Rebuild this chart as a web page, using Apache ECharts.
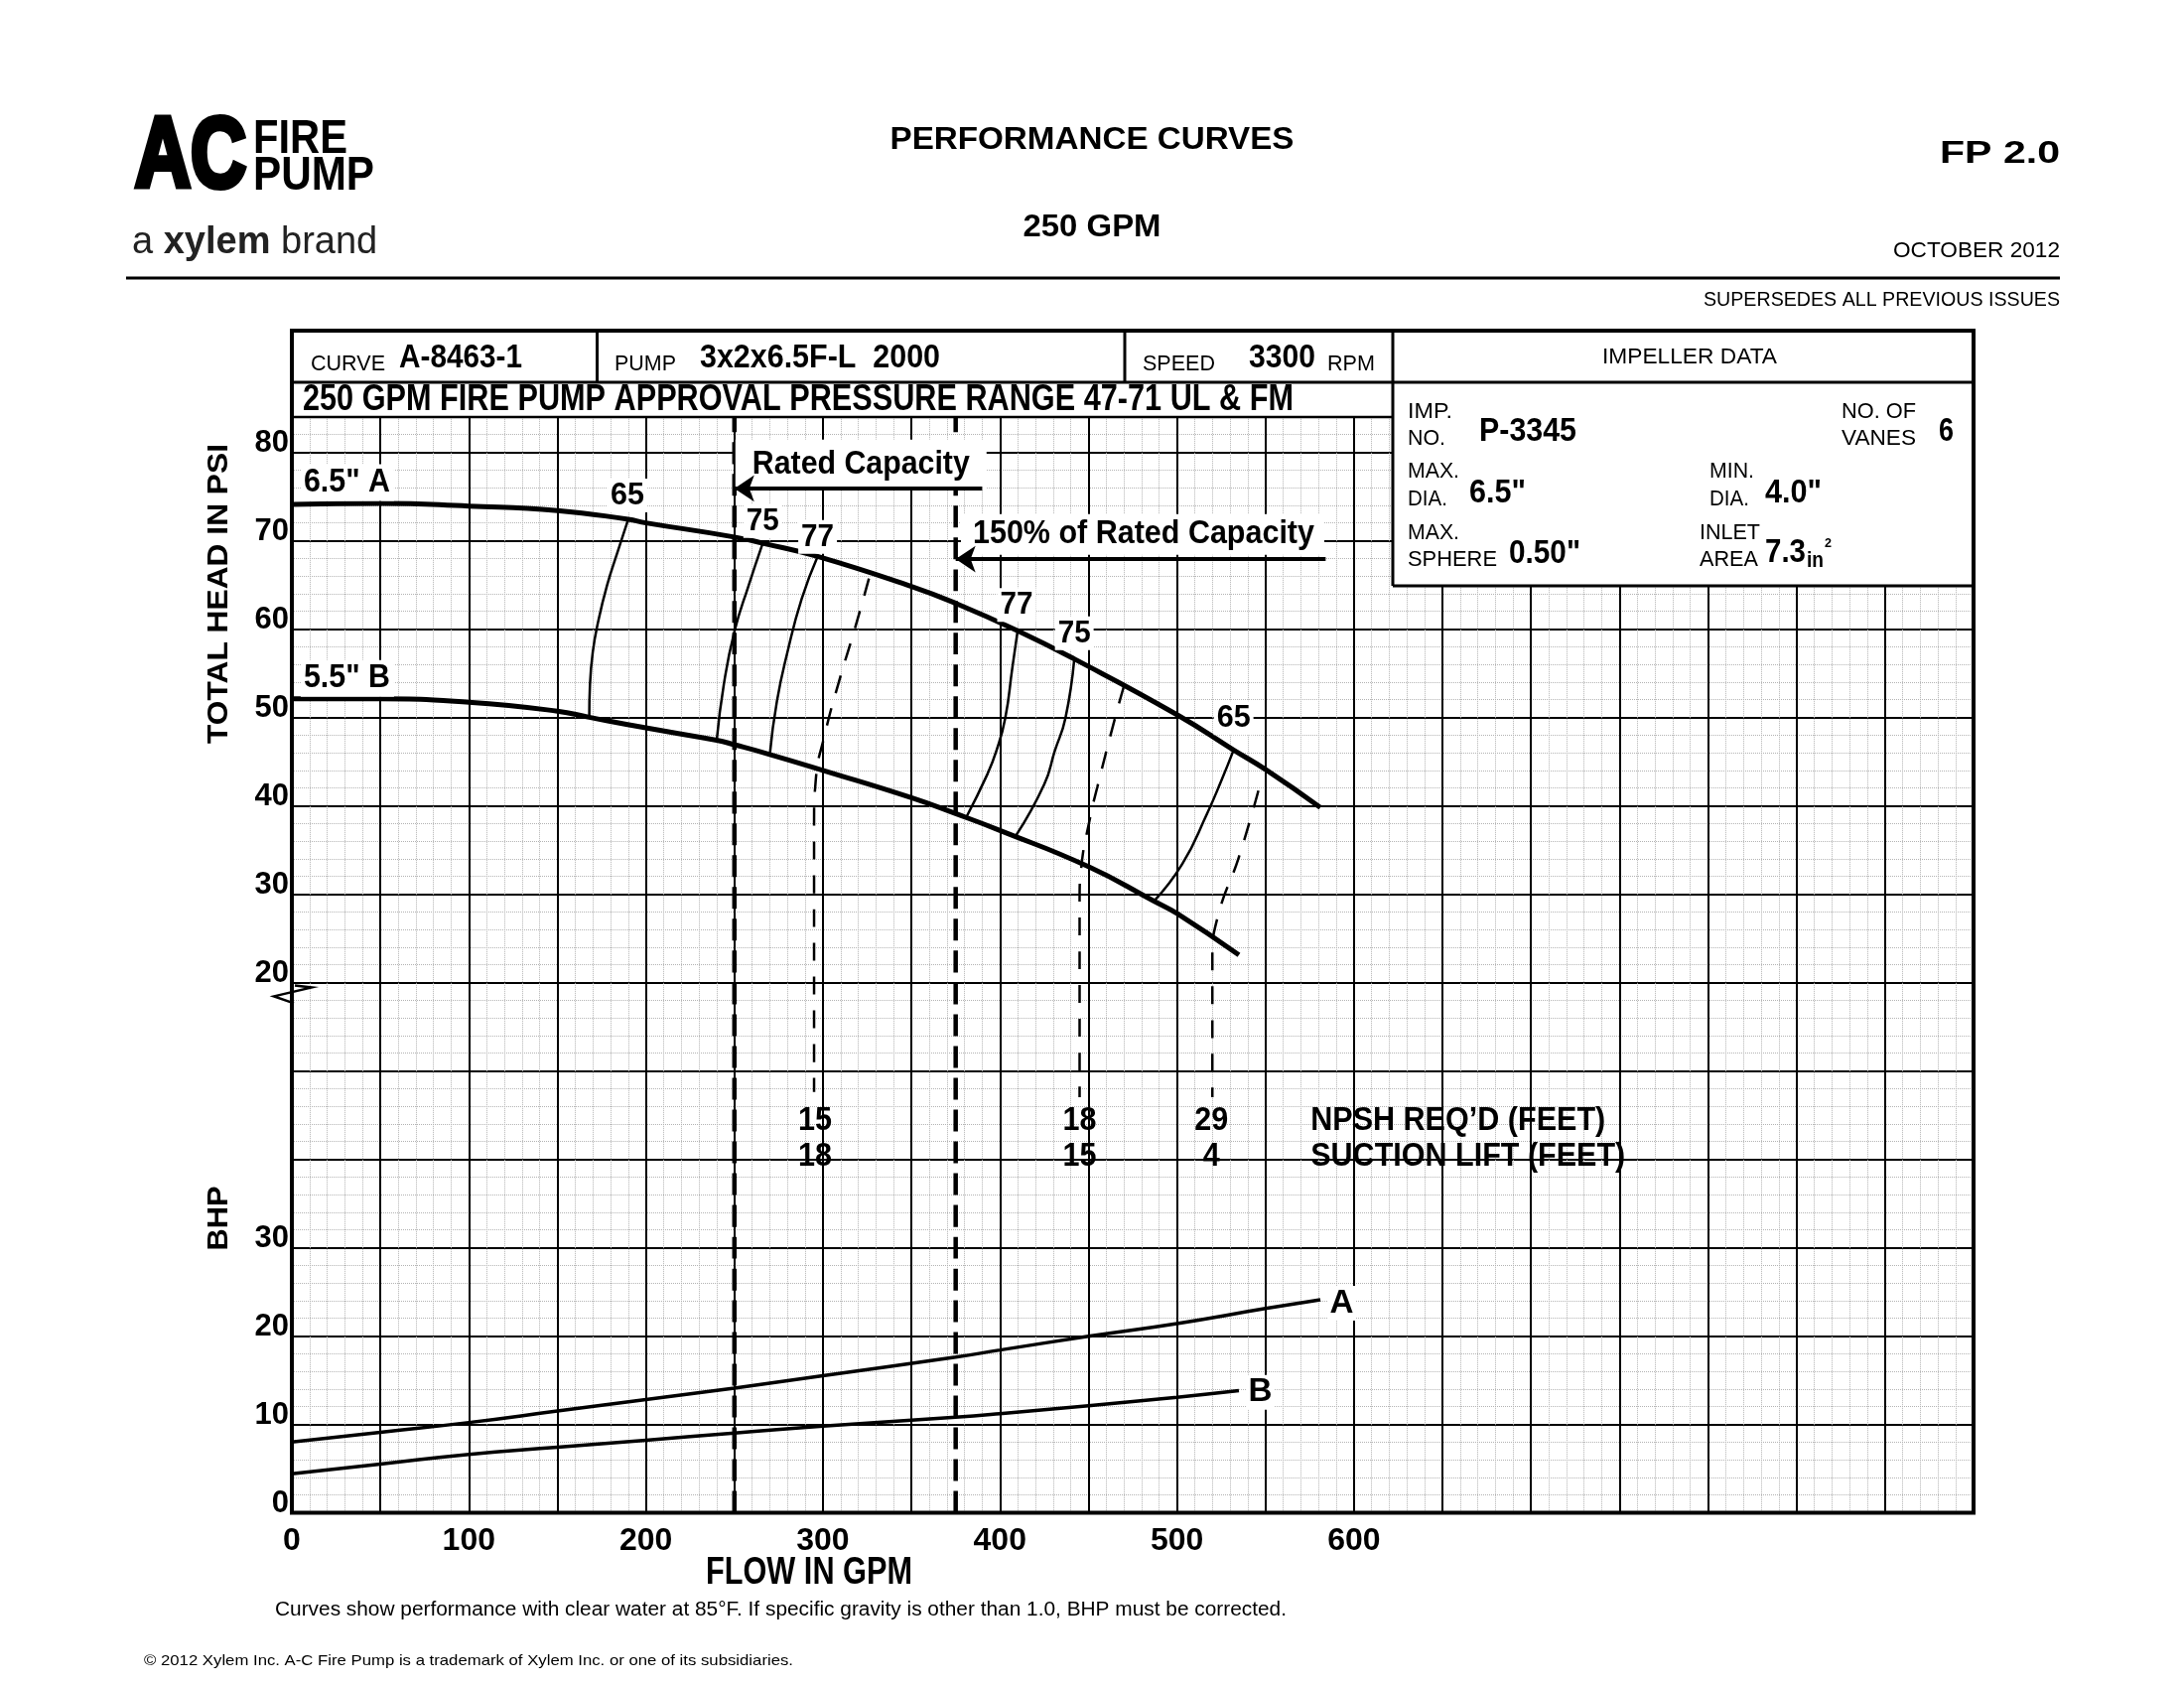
<!DOCTYPE html>
<html>
<head>
<meta charset="utf-8">
<script src="https://cdn.jsdelivr.net/npm/echarts@6/dist/echarts.min.js"></script>
<style>
  html, body { margin: 0; padding: 0; background: #fff; }
  #canvas { width: 2200px; height: 1700px; }
</style>
</head>
<body>
<div id="canvas"></div>
<script>
// ---- data (flow in GPM, head in PSI, power in BHP) ----
var FLOW_MAX = 950, Y_TOP = 124, PSI_OFFSET = 40;   // psi 20 sits on grid row 60
var flowTicks = [0, 100, 200, 300, 400, 500, 600];
var psiTicks = [20, 30, 40, 50, 60, 70, 80];
var bhpTicks = [0, 10, 20, 30];

var headA = [[0,74.1],[50,74.2],[100,73.9],[150,73.4],[190,72.4],[200,72.0],[250,70.4],[266,69.7],
             [297,68.2],[350,64.8],[375,62.9],[410,59.8],[442,56.6],[500,50.3],[532,46.3],[550,44.1],[581,39.8]];
var headB = [[0,52.1],[50,52.1],[100,51.7],[150,50.7],[168,50.0],[200,48.8],[240,47.4],[250,46.9],[270,45.8],
             [300,44.0],[350,40.9],[375,39.1],[400,37.2],[450,33.1],[487,29.2],[500,27.8],[535,23.1]];

// iso-efficiency lines (%), each from the A curve down to the B curve
var eff65L = [[190,72.4],[184,68.7],[178,64.9],[173,60.8],[170,57.4],[168.4,53.7],[168,50.0]];
var eff75L = [[266,69.7],[258,64.9],[250,59.7],[244,53.7],[240,47.4]];
var eff77L = [[297,68.2],[288,63.4],[280,57.4],[274,51.8],[270,45.8]];
var eff77R = [[410,59.8],[407,55.6],[403,49.9],[398,46.2],[393,43.6],[381,38.7]];
var eff75R = [[442,56.6],[437,49.9],[431,46.2],[425,42.4],[409,36.6]];
var eff65R = [[532,46.3],[525,42.8],[517,39.1],[503,33.4],[487,29.2]];

// NPSH dashed lines
var npsh1 = [[326,65.7],[318,60],[309,54],[301,48],[296,43],[295,38],[295,7.6]];
var npsh2 = [[470,53.5],[465,49.9],[455,42.1],[451,38.7],[446,33.1],[445,29.3],[445,7.0]];
var npsh3 = [[546,41.7],[535,34.2],[523,27.4],[520,22.6],[520,7.0]];

var npshFlows = [295.5, 445, 519.5];
var npshReq = ['15', '18', '29'];
var suctionLift = ['18', '15', '4'];

// brake horsepower
var bhpA = [[0,8.0],[50,9.1],[100,10.2],[150,11.5],[200,12.8],[250,14.1],[300,15.5],[375,17.6],
            [400,18.4],[450,19.95],[500,21.4],[550,23.1],[581,24.1]];
var bhpB = [[0,4.4],[50,5.5],[100,6.6],[150,7.4],[200,8.2],[250,9.0],[300,9.8],[375,10.8],
            [400,11.2],[450,12.1],[500,13.05],[535,13.8]];

var ratedFlow = 250, overloadFlow = 375;

var SANS = "'Liberation Sans',Arial,sans-serif";

// squeeze Liberation Sans to the condensed look of the sheet
var mctx = document.createElement('canvas').getContext('2d');
function fit(text, font, w) {
  mctx.font = font;
  return w / mctx.measureText(text).width;
}

function psi(pts) { return pts.map(function (p) { return [p[0], p[1] + PSI_OFFSET]; }); }

function curve(pts, width, dash, z) {
  return {
    type: 'line', data: pts, showSymbol: false, smooth: true, silent: true, z: z || 3,
    lineStyle: { color: '#000', width: width, type: dash || 'solid' }
  };
}

// text notes placed in data space: [text, flow, y(grid units), size, align, width, white box padding]
var notes = [
  ['6.5" A', 5, 76.55 + PSI_OFFSET, 33, 'left', 87, [2, 4, 2, 3]],
  ['5.5" B', 5, 54.4 + PSI_OFFSET, 33, 'left', 87, [2, 4, 2, 3]],
  ['65', 189.6, 75.1 + PSI_OFFSET, 32, 'center', 34, [1, 3, 1, 3]],
  ['75', 266, 72.2 + PSI_OFFSET, 32, 'center', 33, [1, 3, 1, 3]],
  ['77', 297, 70.4 + PSI_OFFSET, 32, 'center', 33, [1, 3, 1, 3]],
  ['77', 409.4, 62.7 + PSI_OFFSET, 32, 'center', 33, [1, 3, 1, 3]],
  ['75', 442, 59.5 + PSI_OFFSET, 32, 'center', 33, [1, 3, 1, 3]],
  ['65', 532, 49.9 + PSI_OFFSET, 32, 'center', 34, [1, 3, 1, 3]],
  ['Rated Capacity', 321.5, 78.55 + PSI_OFFSET, 33, 'center', 219, [1, 17, 17, 17]],
  ['150% of Rated Capacity', 480.6, 70.7 + PSI_OFFSET, 33, 'center', 344, [5, 10, 3, 12]],
  ['NPSH REQ\u2019D (FEET)', 575.5, 44.3, 33, 'left', 297, null],
  ['SUCTION LIFT (FEET)', 575.5, 40.3, 33, 'left', 317, null],
  ['A', 593, 23.7, 33, 'center', 24, [1, 2, 1, 2]],
  ['B', 547, 13.6, 33, 'center', 24, [1, 2, 1, 2]]
];
npshFlows.forEach(function (f, i) {
  notes.push([npshReq[i], f, 44.3, 33, 'center', npshReq[i].length * 17, null]);
  notes.push([suctionLift[i], f, 40.3, 33, 'center', suctionLift[i].length * 17, null]);
});

var dom = document.getElementById('canvas');
var myChart = echarts.init(dom);

// page furniture: header, table, footer
function txt(x, y, s, font, align, w, extra) {
  var o = { type: 'text', x: x, y: y, z: 120, silent: true,
    style: { text: s, font: font, fill: '#000', align: align || 'left', verticalAlign: 'middle' } };
  if (w) o.scaleX = fit(s, font, w);
  if (extra) { for (var k in extra) o[k] = extra[k]; }
  return o;
}
function ln(x1, y1, x2, y2, w) {
  return { type: 'line', z: 121, silent: true, shape: { x1: x1, y1: y1, x2: x2, y2: y2 },
    style: { stroke: '#000', lineWidth: w } };
}

var B34 = "bold 34px " + SANS, R22 = "22px " + SANS;

var graphics = [
  // logo
  txt(136, 160, 'AC', "bold 100px " + SANS, 'left', 112, { style: { text: 'AC', font: "bold 100px " + SANS, fill: '#000',
      stroke: '#000', lineWidth: 6, align: 'left', verticalAlign: 'middle' } }),
  txt(255, 141, 'FIRE', "bold 48px " + SANS, 'left', 95),
  txt(255, 178, 'PUMP', "bold 48px " + SANS, 'left', 122),
  { type: 'text', x: 133, y: 245, z: 120, silent: true,
    style: { text: '{r|a }{b|xylem}{r| brand}', verticalAlign: 'middle',
      rich: { r: { font: "38px " + SANS, fill: '#222' }, b: { font: "bold 38px " + SANS, fill: '#222' } } } },
  txt(1100, 141, 'PERFORMANCE CURVES', "bold 31px " + SANS, 'center', 407),
  txt(1100, 229, '250 GPM', "bold 31px " + SANS, 'center', 139),
  txt(2075, 155, 'FP 2.0', "bold 32px " + SANS, 'right', 121),
  txt(2075, 253, 'OCTOBER 2012', "22px " + SANS, 'right', 168),
  ln(127, 280, 2075, 280, 3),
  txt(2075, 302, 'SUPERSEDES ALL PREVIOUS ISSUES', "20px " + SANS, 'right', 359),
  // table
  { type: 'rect', z: 110, silent: true, shape: { x: 294, y: 333, width: 1694, height: 87 }, style: { fill: '#fff' } },
  { type: 'rect', z: 110, silent: true, shape: { x: 1403, y: 333, width: 585, height: 257 }, style: { fill: '#fff' } },
  ln(294, 385, 1988, 385, 3),
  ln(294, 420, 1403, 420, 2.5),
  ln(1403, 590, 1988, 590, 3),
  ln(601.5, 333, 601.5, 385, 3),
  ln(1133, 333, 1133, 385, 3),
  ln(1403, 333, 1403, 590, 3),
  { type: 'rect', z: 122, silent: true, shape: { x: 294, y: 333, width: 1694, height: 1190.4 },
    style: { fill: 'none', stroke: '#000', lineWidth: 4 } },
  txt(313, 367, 'CURVE', R22, 'left', 75),
  txt(402, 361, 'A-8463-1', B34, 'left', 124),
  txt(619, 367, 'PUMP', R22, 'left', 62),
  txt(705, 361, '3x2x6.5F-L  2000', B34, 'left', 242),
  txt(1151, 367, 'SPEED', R22, 'left', 73),
  txt(1258, 361, '3300', B34, 'left', 67),
  txt(1337, 367, 'RPM', R22, 'left', 48),
  txt(1702, 360, 'IMPELLER DATA', R22, 'center', 176),
  txt(305, 403, '250 GPM FIRE PUMP APPROVAL PRESSURE RANGE 47-71 UL & FM', "bold 36px " + SANS, 'left', 998),
  txt(1418, 415, 'IMP.', R22, 'left', 45),
  txt(1418, 442, 'NO.', R22, 'left', 38),
  txt(1490, 435, 'P-3345', B34, 'left', 98),
  txt(1855, 415, 'NO. OF', R22, 'left', 75),
  txt(1855, 442, 'VANES', R22, 'left', 75),
  txt(1953, 435, '6', B34, 'left', 15),
  txt(1418, 475, 'MAX.', R22, 'left', 52),
  txt(1418, 503, 'DIA.', R22, 'left', 40),
  txt(1480, 497, '6.5"', B34, 'left', 57),
  txt(1722, 475, 'MIN.', R22, 'left', 45),
  txt(1722, 503, 'DIA.', R22, 'left', 40),
  txt(1778, 497, '4.0"', B34, 'left', 57),
  txt(1418, 537, 'MAX.', R22, 'left', 52),
  txt(1418, 564, 'SPHERE', R22, 'left', 90),
  txt(1520, 558, '0.50"', B34, 'left', 72),
  txt(1712, 537, 'INLET', R22, 'left', 61),
  txt(1712, 564, 'AREA', R22, 'left', 59),
  txt(1778, 557, '7.3', B34, 'left', 41),
  txt(1820, 565, 'in', "bold 22px " + SANS, 'left', 17),
  txt(1838, 547, '2', "bold 13px " + SANS, 'left', 7),
  // axis titles & notes
  txt(221, 598, 'TOTAL HEAD IN PSI', "bold 30px " + SANS, 'center', 302, { rotation: Math.PI / 2 }),
  txt(221, 1227, 'BHP', "bold 30px " + SANS, 'center', 65, { rotation: Math.PI / 2 }),
  txt(815, 1585, 'FLOW IN GPM', "bold 38px " + SANS, 'center', 208),
  txt(277, 1621, 'Curves show performance with clear water at 85\u00b0F. If specific gravity is other than 1.0, BHP must be corrected.', "20px " + SANS, 'left', 1019),
  txt(145, 1673, '\u00a9 2012 Xylem Inc. A-C Fire Pump is a trademark of Xylem Inc. or one of its subsidiaries.', "15px " + SANS, 'left', 654)
];

var option = {
  animation: false,
  backgroundColor: '#fff',
  grid: { left: 294, right: 212, top: 419.8, bottom: 176.6, containLabel: false },
  xAxis: {
    type: 'value', min: 0, max: FLOW_MAX, interval: 50,
    axisLine: { show: false }, axisTick: { show: false },
    axisLabel: {
      margin: 13, fontFamily: SANS, fontWeight: 'bold', fontSize: 32, color: '#000',
      formatter: function (v) { return flowTicks.indexOf(v) >= 0 ? String(v) : ''; }
    },
    splitLine: { show: true, lineStyle: { color: '#000', width: 2 } },
    minorTick: { show: false, splitNumber: 5 },
    minorSplitLine: { show: true, lineStyle: { color: '#b4b4b4', width: 1, type: 'dotted' } }
  },
  yAxis: {
    type: 'value', min: 0, max: Y_TOP, interval: 10,
    axisLine: { show: false }, axisTick: { show: false },
    axisLabel: {
      margin: 3, align: 'right', verticalAlign: 'bottom', lineHeight: 18,
      fontFamily: SANS, fontWeight: 'bold', fontSize: 31, color: '#000',
      formatter: function (v) {
        if (bhpTicks.indexOf(v) >= 0) return String(v);
        if (psiTicks.indexOf(v - PSI_OFFSET) >= 0) return String(v - PSI_OFFSET);
        return '';
      }
    },
    splitLine: { show: true, lineStyle: { color: '#000', width: 2 } },
    minorTick: { show: false, splitNumber: 5 },
    minorSplitLine: { show: true, lineStyle: { color: '#b4b4b4', width: 1, type: 'dotted' } }
  },
  graphic: graphics,
  series: [
    curve([[ratedFlow, 0], [ratedFlow, Y_TOP]], 4.5, [22, 10]),
    curve([[overloadFlow, 0], [overloadFlow, Y_TOP]], 4.5, [22, 10]),
    curve(psi(headA), 5),
    curve(psi(headB), 5),
    curve(psi(eff65L), 2.5), curve(psi(eff75L), 2.5), curve(psi(eff77L), 2.5),
    curve(psi(eff77R), 2.5), curve(psi(eff75R), 2.5), curve(psi(eff65R), 2.5),
    curve(psi(npsh1), 2.5, [18, 16]), curve(psi(npsh2), 2.5, [18, 16]), curve(psi(npsh3), 2.5, [18, 16]),
    curve(bhpA, 3.5),
    curve(bhpB, 3.5),
    {
      type: 'custom', coordinateSystem: 'cartesian2d', silent: true, z: 5,
      data: notes.map(function (n) { return [n[1], n[2]]; }),
      renderItem: function (params, api) {
        var n = notes[params.dataIndex];
        var p = api.coord([api.value(0), api.value(1)]);
        var font = 'bold ' + n[3] + 'px ' + SANS;
        var sx = fit(n[0], font, n[5]);
        var pad = n[6] ? [n[6][0], n[6][1] / sx, n[6][2], n[6][3] / sx] : 0;
        return {
          type: 'text', x: p[0], y: p[1], scaleX: sx, silent: true,
          style: { text: n[0], font: font, fill: '#000', align: n[4], verticalAlign: 'middle',
            backgroundColor: n[6] ? '#fff' : null, padding: pad }
        };
      }
    },
    {
      type: 'line', data: [], z: 8, silent: true,
      markLine: {
        silent: true, symbol: ['none', 'arrow'], symbolSize: 20, label: { show: false }, z: 8,
        lineStyle: { color: '#000', width: 4, type: 'solid' },
        data: [
          [{ coord: [390, 75.9 + PSI_OFFSET] }, { coord: [ratedFlow, 75.9 + PSI_OFFSET] }],
          [{ coord: [584, 67.9 + PSI_OFFSET] }, { coord: [overloadFlow, 67.9 + PSI_OFFSET] }]
        ]
      }
    }
  ]
};

if (option && typeof option === 'object') {
  myChart.setOption(option, true);
}

// axis break mark just under the 20 psi line
var brk = myChart.convertToPixel({ gridIndex: 0 }, [0, 20 + PSI_OFFSET]);
myChart.setOption({
  graphic: graphics.concat([{
    type: 'polyline', z: 123, silent: true,
    shape: { points: [[brk[0] + 3, brk[1] + 3], [brk[0] + 20, brk[1] + 5], [brk[0] - 18, brk[1] + 14], [brk[0] + 2, brk[1] + 21]] },
    style: { stroke: '#000', lineWidth: 2.5, fill: 'none' }
  }])
});
</script>
</body>
</html>
